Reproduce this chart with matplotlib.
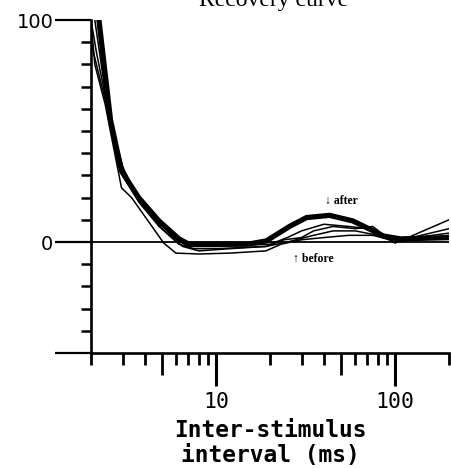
import matplotlib
matplotlib.use("Agg")
import matplotlib.pyplot as plt
from matplotlib.ticker import FixedLocator, NullFormatter

after_x = [2.2, 2.57, 2.96, 3.69, 4.79, 6.2, 7.05, 10, 15, 19.1, 25.7, 32, 43, 58, 70, 86, 107, 206]
after_y = [102, 55, 32, 20, 9.5, 1.4, -1, -1, -1, 0.5, 7, 11, 12, 9.5, 6.3, 2.7, 1.4, 2]

thin1_x = [2.0, 2.1, 2.4, 2.96, 3.37, 5.1, 5.96, 8.0, 12, 19, 23, 30, 40, 55, 75, 95, 110, 200]
thin1_y = [100, 80, 62, 24.4, 20, -0.5, -5, -5.4, -5, -4, -1, 1, 2, 3, 3, 1, 1, 6]

thin2_x = [2.0, 2.15, 2.6, 3.0, 3.7, 4.8, 6.2, 7.5, 10, 19, 24, 30, 35, 45, 60, 75, 90, 100, 200]
thin2_y = [100, 85, 52, 30, 18, 7, -1, -3, -3, -2, 1, 2, 5, 7, 6, 7, 2, -0.5, 10]

thin3_x = [2.0, 2.3, 2.7, 3.1, 3.8, 5, 6.5, 8, 12, 19, 25, 35, 45, 60, 80, 100, 130, 200]
thin3_y = [90, 70, 48, 30, 17, 6, -2, -4, -3, -2, 0, 3, 5, 5, 3, 1, 2, 4]

thin4_x = [2.1, 2.5, 3, 3.6, 4.5, 6, 7, 10, 20, 25, 30, 40, 55, 70, 85, 100, 200]
thin4_y = [100, 58, 34, 21, 11, 1, -2, -2, -1, 2, 5, 8, 7, 6, 2, 0, 3]

x_major = [10, 100]
x_mid = [5, 50]
x_minor = [2, 3, 4, 6, 7, 8, 9, 20, 30, 40, 60, 70, 80, 90, 200]
y_major = [-50, 0, 100]
y_major_labels = ["", "0", "100"]
y_minor = [-40, -30, -20, -10, 10, 20, 30, 40, 50, 60, 70, 80, 90]

fig = plt.figure(figsize=(4.51, 4.68), dpi=100)
ax = fig.add_axes([91 / 451, 1 - 353 / 468, 358 / 451, 333 / 468])

ax.axhline(0, color="black", lw=1.3, zorder=1)
for xs, ys in [(thin1_x, thin1_y), (thin2_x, thin2_y), (thin3_x, thin3_y), (thin4_x, thin4_y)]:
    ax.plot(xs, ys, color="black", lw=1.1, zorder=2)
ax.plot(after_x, after_y, color="black", lw=3.8, zorder=3, solid_capstyle="butt")

ax.set_xscale("log")
ax.set_xlim(2, 200)
ax.set_ylim(-50, 100)

for s in ["top", "right"]:
    ax.spines[s].set_visible(False)
for s in ["left", "bottom"]:
    ax.spines[s].set_linewidth(1.9)

ax.xaxis.set_major_locator(FixedLocator(x_major))
ax.xaxis.set_minor_locator(FixedLocator(x_minor))
ax.xaxis.set_minor_formatter(NullFormatter())
ax.set_xticklabels(["10", "100"], family="DejaVu Sans Mono", fontsize=15.5)
ax.tick_params(axis="x", which="major", length=24, width=2.2, pad=4)
ax.tick_params(axis="x", which="minor", length=8.5, width=2.0)

ax.yaxis.set_major_locator(FixedLocator(y_major))
ax.yaxis.set_minor_locator(FixedLocator(y_minor))
ax.set_yticklabels(y_major_labels, family="DejaVu Sans", fontsize=14)
ax.tick_params(axis="y", which="major", length=26, width=1.6, pad=1)
ax.tick_params(axis="y", which="minor", length=7, width=1.8)

# medium ticks at 5 and 50
sec = ax.secondary_xaxis("bottom")
sec.set_xticks(x_mid)
sec.set_xticklabels(["", ""])
sec.tick_params(axis="x", which="major", length=16, width=2.0)
sec.xaxis.set_minor_locator(FixedLocator([]))
sec.spines["bottom"].set_visible(False)

ax.set_xlabel("Inter-stimulus\ninterval (ms)", family="DejaVu Sans Mono",
              fontweight="bold", fontsize=16.5, linespacing=1.12, labelpad=5)

ann_font = ["Liberation Serif", "DejaVu Serif"]
ax.text(40.6, 18.5, "\u2193 after", family=ann_font, fontweight="bold",
        fontsize=8.5, va="center", ha="left")
ax.text(26.9, -7.7, "\u2191 before", family=ann_font, fontweight="bold",
        fontsize=8.5, va="center", ha="left")

fig.text(274 / 451, 1 - 6 / 468, "Recovery curve", family=["Liberation Serif"],
         fontsize=17, ha="center", va="baseline")

fig.savefig("out.png", dpi=100, facecolor="white")
